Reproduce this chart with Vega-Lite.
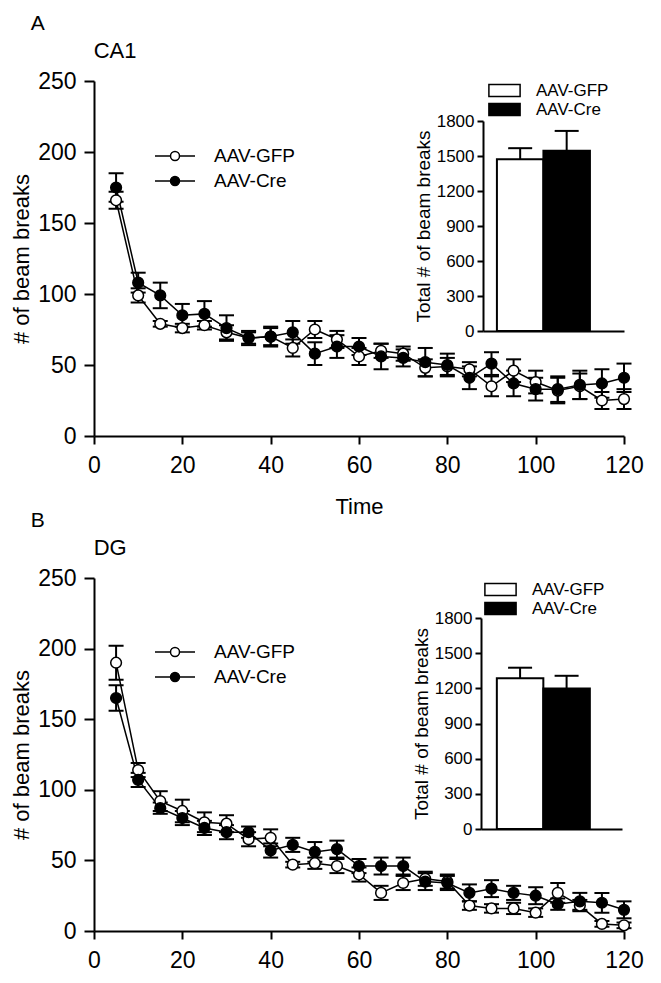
{
  "$schema": "https://vega.github.io/schema/vega-lite/v6.json",
  "padding": {"left": 10, "top": 13, "right": 5, "bottom": 5},
  "background": "white",
  "config": {
    "font": "Liberation Sans",
    "view": {"stroke": null},
    "axis": {"grid": false, "domainColor": "black", "tickColor": "black", "labelColor": "black", "titleColor": "black", "titleFontWeight": "normal", "domainWidth": 2, "tickWidth": 2, "labelFlush": false, "labelOverlap": false},
    "title": {"fontWeight": "normal", "color": "black", "anchor": "start"},
    "legend": {"labelColor": "black", "padding": 0}
  },
  "datasets": {
    "ca1": [
      {"t": 5, "group": "AAV-GFP", "mean": 166, "sem": 6}, {"t": 5, "group": "AAV-Cre", "mean": 175, "sem": 10},
      {"t": 10, "group": "AAV-GFP", "mean": 99, "sem": 5}, {"t": 10, "group": "AAV-Cre", "mean": 108, "sem": 7},
      {"t": 15, "group": "AAV-GFP", "mean": 79, "sem": 2}, {"t": 15, "group": "AAV-Cre", "mean": 99, "sem": 9},
      {"t": 20, "group": "AAV-GFP", "mean": 76, "sem": 3}, {"t": 20, "group": "AAV-Cre", "mean": 85, "sem": 8},
      {"t": 25, "group": "AAV-GFP", "mean": 78, "sem": 3}, {"t": 25, "group": "AAV-Cre", "mean": 86, "sem": 9},
      {"t": 30, "group": "AAV-GFP", "mean": 73, "sem": 5}, {"t": 30, "group": "AAV-Cre", "mean": 76, "sem": 9},
      {"t": 35, "group": "AAV-GFP", "mean": 69, "sem": 4}, {"t": 35, "group": "AAV-Cre", "mean": 69, "sem": 5},
      {"t": 40, "group": "AAV-GFP", "mean": 70, "sem": 6}, {"t": 40, "group": "AAV-Cre", "mean": 70, "sem": 7},
      {"t": 45, "group": "AAV-GFP", "mean": 62, "sem": 6}, {"t": 45, "group": "AAV-Cre", "mean": 73, "sem": 8},
      {"t": 50, "group": "AAV-GFP", "mean": 75, "sem": 6}, {"t": 50, "group": "AAV-Cre", "mean": 58, "sem": 8},
      {"t": 55, "group": "AAV-GFP", "mean": 68, "sem": 6}, {"t": 55, "group": "AAV-Cre", "mean": 63, "sem": 8},
      {"t": 60, "group": "AAV-GFP", "mean": 56, "sem": 6}, {"t": 60, "group": "AAV-Cre", "mean": 63, "sem": 6},
      {"t": 65, "group": "AAV-GFP", "mean": 60, "sem": 5}, {"t": 65, "group": "AAV-Cre", "mean": 56, "sem": 9},
      {"t": 70, "group": "AAV-GFP", "mean": 58, "sem": 5}, {"t": 70, "group": "AAV-Cre", "mean": 55, "sem": 6},
      {"t": 75, "group": "AAV-GFP", "mean": 48, "sem": 6}, {"t": 75, "group": "AAV-Cre", "mean": 52, "sem": 10},
      {"t": 80, "group": "AAV-GFP", "mean": 49, "sem": 6}, {"t": 80, "group": "AAV-Cre", "mean": 50, "sem": 8},
      {"t": 85, "group": "AAV-GFP", "mean": 47, "sem": 5}, {"t": 85, "group": "AAV-Cre", "mean": 41, "sem": 8},
      {"t": 90, "group": "AAV-GFP", "mean": 35, "sem": 7}, {"t": 90, "group": "AAV-Cre", "mean": 51, "sem": 8},
      {"t": 95, "group": "AAV-GFP", "mean": 46, "sem": 8}, {"t": 95, "group": "AAV-Cre", "mean": 37, "sem": 9},
      {"t": 100, "group": "AAV-GFP", "mean": 38, "sem": 8}, {"t": 100, "group": "AAV-Cre", "mean": 33, "sem": 8},
      {"t": 105, "group": "AAV-GFP", "mean": 32, "sem": 9}, {"t": 105, "group": "AAV-Cre", "mean": 33, "sem": 9},
      {"t": 110, "group": "AAV-GFP", "mean": 35, "sem": 9}, {"t": 110, "group": "AAV-Cre", "mean": 36, "sem": 10},
      {"t": 115, "group": "AAV-GFP", "mean": 25, "sem": 6}, {"t": 115, "group": "AAV-Cre", "mean": 37, "sem": 10},
      {"t": 120, "group": "AAV-GFP", "mean": 26, "sem": 7}, {"t": 120, "group": "AAV-Cre", "mean": 41, "sem": 10}
    ],
    "dg": [
      {"t": 5, "group": "AAV-GFP", "mean": 190, "sem": 12}, {"t": 5, "group": "AAV-Cre", "mean": 165, "sem": 9},
      {"t": 10, "group": "AAV-GFP", "mean": 114, "sem": 5}, {"t": 10, "group": "AAV-Cre", "mean": 107, "sem": 5},
      {"t": 15, "group": "AAV-GFP", "mean": 92, "sem": 7}, {"t": 15, "group": "AAV-Cre", "mean": 87, "sem": 4},
      {"t": 20, "group": "AAV-GFP", "mean": 85, "sem": 8}, {"t": 20, "group": "AAV-Cre", "mean": 80, "sem": 5},
      {"t": 25, "group": "AAV-GFP", "mean": 77, "sem": 7}, {"t": 25, "group": "AAV-Cre", "mean": 73, "sem": 5},
      {"t": 30, "group": "AAV-GFP", "mean": 76, "sem": 6}, {"t": 30, "group": "AAV-Cre", "mean": 70, "sem": 5},
      {"t": 35, "group": "AAV-GFP", "mean": 65, "sem": 5}, {"t": 35, "group": "AAV-Cre", "mean": 70, "sem": 4},
      {"t": 40, "group": "AAV-GFP", "mean": 66, "sem": 6}, {"t": 40, "group": "AAV-Cre", "mean": 57, "sem": 5},
      {"t": 45, "group": "AAV-GFP", "mean": 47, "sem": 2}, {"t": 45, "group": "AAV-Cre", "mean": 61, "sem": 5},
      {"t": 50, "group": "AAV-GFP", "mean": 48, "sem": 4}, {"t": 50, "group": "AAV-Cre", "mean": 56, "sem": 7},
      {"t": 55, "group": "AAV-GFP", "mean": 46, "sem": 5}, {"t": 55, "group": "AAV-Cre", "mean": 58, "sem": 6},
      {"t": 60, "group": "AAV-GFP", "mean": 40, "sem": 5}, {"t": 60, "group": "AAV-Cre", "mean": 46, "sem": 5},
      {"t": 65, "group": "AAV-GFP", "mean": 27, "sem": 5}, {"t": 65, "group": "AAV-Cre", "mean": 46, "sem": 6},
      {"t": 70, "group": "AAV-GFP", "mean": 34, "sem": 5}, {"t": 70, "group": "AAV-Cre", "mean": 46, "sem": 6},
      {"t": 75, "group": "AAV-GFP", "mean": 37, "sem": 5}, {"t": 75, "group": "AAV-Cre", "mean": 35, "sem": 6},
      {"t": 80, "group": "AAV-GFP", "mean": 35, "sem": 5}, {"t": 80, "group": "AAV-Cre", "mean": 34, "sem": 5},
      {"t": 85, "group": "AAV-GFP", "mean": 18, "sem": 3}, {"t": 85, "group": "AAV-Cre", "mean": 27, "sem": 6},
      {"t": 90, "group": "AAV-GFP", "mean": 16, "sem": 3}, {"t": 90, "group": "AAV-Cre", "mean": 30, "sem": 6},
      {"t": 95, "group": "AAV-GFP", "mean": 16, "sem": 4}, {"t": 95, "group": "AAV-Cre", "mean": 27, "sem": 5},
      {"t": 100, "group": "AAV-GFP", "mean": 13, "sem": 3}, {"t": 100, "group": "AAV-Cre", "mean": 25, "sem": 6},
      {"t": 105, "group": "AAV-GFP", "mean": 27, "sem": 7}, {"t": 105, "group": "AAV-Cre", "mean": 19, "sem": 4},
      {"t": 110, "group": "AAV-GFP", "mean": 18, "sem": 4}, {"t": 110, "group": "AAV-Cre", "mean": 21, "sem": 6},
      {"t": 115, "group": "AAV-GFP", "mean": 5, "sem": 2}, {"t": 115, "group": "AAV-Cre", "mean": 20, "sem": 7},
      {"t": 120, "group": "AAV-GFP", "mean": 4, "sem": 2}, {"t": 120, "group": "AAV-Cre", "mean": 15, "sem": 6}
    ],
    "totA": [
      {"group": "AAV-GFP", "total": 1473, "sem": 94},
      {"group": "AAV-Cre", "total": 1544, "sem": 171}
    ],
    "totB": [
      {"group": "AAV-GFP", "total": 1287, "sem": 89},
      {"group": "AAV-Cre", "total": 1199, "sem": 108}
    ]
  },
  "bounds": "flush",
  "spacing": 497,
  "vconcat": [
    {
      "title": {"text": "A", "fontSize": 21, "dx": 20, "offset": 6},
      "bounds": "flush",
      "vconcat": [
        {
          "width": 530,
          "height": 355,
          "title": {"text": "CA1", "fontSize": 22, "offset": 7, "dx": 83},
          "layer": [
            {
              "data": {"name": "ca1"},
              "encoding": {
                "x": {"field": "t", "type": "quantitative", "scale": {"domain": [0, 120], "nice": false},
                  "axis": {"orient": "bottom", "values": [0, 20, 40, 60, 80, 100, 120], "tickSize": 8, "labelFontSize": 23, "labelPadding": 10, "title": "Time", "titleFontSize": 22, "titlePadding": 19}},
                "y": {"field": "mean", "type": "quantitative", "scale": {"domain": [0, 250], "nice": false},
                  "axis": {"orient": "left", "values": [0, 50, 100, 150, 200, 250], "tickSize": 10, "labelFontSize": 23, "labelPadding": 8, "title": "# of beam breaks", "titleFontSize": 22, "titlePadding": 4}}
              },
              "layer": [
                {"mark": {"type": "line", "color": "black", "strokeWidth": 1.5}, "encoding": {"detail": {"field": "group"}}},
                {"mark": {"type": "errorbar", "color": "black", "opacity": 1, "ticks": {"size": 15, "thickness": 2, "opacity": 1, "color": "black"}, "rule": {"strokeWidth": 2, "opacity": 1, "color": "black"}},
                  "encoding": {"yError": {"field": "sem"}, "detail": {"field": "group"}}},
                {"mark": {"type": "point", "shape": "circle", "filled": true, "stroke": "black", "strokeWidth": 1.5, "size": 115, "opacity": 1},
                  "encoding": {"fill": {"field": "group", "type": "nominal", "sort": ["AAV-GFP", "AAV-Cre"],
                    "scale": {"domain": ["AAV-GFP", "AAV-Cre"], "range": ["white", "black"]},
                    "legend": {"orient": "none", "legendX": 70, "legendY": 64, "title": null,
                      "symbolType": "M-2,0H-0.45M0.45,0H2M-0.45,0A0.45,0.45 0 1 1 0.45,0A0.45,0.45 0 1 1 -0.45,0Z",
                      "symbolSize": 400, "symbolStrokeColor": "black", "symbolStrokeWidth": 1.5, "symbolOpacity": 1,
                      "labelFontSize": 19, "labelOffset": 28, "rowPadding": 4}}}}
              ]
            },
            {
              "data": {"name": "totA"},
              "encoding": {
                "x": {"field": "group", "type": "nominal", "sort": ["AAV-GFP", "AAV-Cre"],
                  "scale": {"range": [389, 530], "paddingInner": 0, "paddingOuter": 0.516, "align": 0.29},
                  "axis": {"orient": "bottom", "offset": -105, "labels": false, "ticks": false, "title": null}},
                "y": {"field": "total", "type": "quantitative", "scale": {"domain": [0, 1800], "nice": false, "range": [250, 40]},
                  "axis": {"orient": "left", "offset": -389, "values": [0, 300, 600, 900, 1200, 1500, 1800], "format": "d", "tickSize": 6, "labelFontSize": 17, "labelPadding": 3, "title": "Total # of beam breaks", "titleFontSize": 19, "titlePadding": 3}}
              },
              "layer": [
                {"mark": {"type": "errorbar", "color": "black", "opacity": 1, "ticks": {"size": 24, "thickness": 2, "opacity": 1, "color": "black"}, "rule": {"strokeWidth": 2, "opacity": 1, "color": "black"}},
                  "encoding": {"yError": {"field": "sem"}}},
                {"mark": {"type": "bar", "stroke": "black", "strokeWidth": 2, "opacity": 1},
                  "encoding": {"fill": {"field": "group", "type": "nominal", "sort": ["AAV-GFP", "AAV-Cre"],
                    "scale": {"domain": ["AAV-GFP", "AAV-Cre"], "range": ["white", "black"]},
                    "legend": {"orient": "none", "legendX": 402, "legendY": 1, "title": null,
                      "symbolType": "M-2.6,-1H2.6V1H-2.6Z", "symbolSize": 144, "symbolStrokeColor": "black", "symbolStrokeWidth": 1.5, "symbolOpacity": 1,
                      "labelFontSize": 17, "labelOffset": 23, "rowPadding": 0}}}}
              ]
            }
          ],
          "resolve": {"scale": {"x": "independent", "y": "independent", "fill": "independent"}, "axis": {"x": "independent", "y": "independent"}, "legend": {"fill": "independent"}}
        }
      ]
    },
    {
      "title": {"text": "B", "fontSize": 21, "dx": 20, "offset": 6},
      "bounds": "flush",
      "vconcat": [
        {
          "width": 530,
          "height": 353,
          "title": {"text": "DG", "fontSize": 22, "offset": 7, "dx": 83},
          "layer": [
            {
              "data": {"name": "dg"},
              "encoding": {
                "x": {"field": "t", "type": "quantitative", "scale": {"domain": [0, 120], "nice": false},
                  "axis": {"orient": "bottom", "values": [0, 20, 40, 60, 80, 100, 120], "tickSize": 8, "labelFontSize": 23, "labelPadding": 10, "title": null}},
                "y": {"field": "mean", "type": "quantitative", "scale": {"domain": [0, 250], "nice": false},
                  "axis": {"orient": "left", "values": [0, 50, 100, 150, 200, 250], "tickSize": 10, "labelFontSize": 23, "labelPadding": 8, "title": "# of beam breaks", "titleFontSize": 22, "titlePadding": 4}}
              },
              "layer": [
                {"mark": {"type": "line", "color": "black", "strokeWidth": 1.5}, "encoding": {"detail": {"field": "group"}}},
                {"mark": {"type": "errorbar", "color": "black", "opacity": 1, "ticks": {"size": 15, "thickness": 2, "opacity": 1, "color": "black"}, "rule": {"strokeWidth": 2, "opacity": 1, "color": "black"}},
                  "encoding": {"yError": {"field": "sem"}, "detail": {"field": "group"}}},
                {"mark": {"type": "point", "shape": "circle", "filled": true, "stroke": "black", "strokeWidth": 1.5, "size": 115, "opacity": 1},
                  "encoding": {"fill": {"field": "group", "type": "nominal", "sort": ["AAV-GFP", "AAV-Cre"],
                    "scale": {"domain": ["AAV-GFP", "AAV-Cre"], "range": ["white", "black"]},
                    "legend": {"orient": "none", "legendX": 70, "legendY": 63, "title": null,
                      "symbolType": "M-2,0H-0.45M0.45,0H2M-0.45,0A0.45,0.45 0 1 1 0.45,0A0.45,0.45 0 1 1 -0.45,0Z",
                      "symbolSize": 400, "symbolStrokeColor": "black", "symbolStrokeWidth": 1.5, "symbolOpacity": 1,
                      "labelFontSize": 19, "labelOffset": 28, "rowPadding": 4}}}}
              ]
            },
            {
              "data": {"name": "totB"},
              "encoding": {
                "x": {"field": "group", "type": "nominal", "sort": ["AAV-GFP", "AAV-Cre"],
                  "scale": {"range": [387, 528], "paddingInner": 0, "paddingOuter": 0.516, "align": 0.33},
                  "axis": {"orient": "bottom", "offset": -102, "labels": false, "ticks": false, "title": null}},
                "y": {"field": "total", "type": "quantitative", "scale": {"domain": [0, 1800], "nice": false, "range": [251, 40]},
                  "axis": {"orient": "left", "offset": -387, "values": [0, 300, 600, 900, 1200, 1500, 1800], "format": "d", "tickSize": 6, "labelFontSize": 17, "labelPadding": 3, "title": "Total # of beam breaks", "titleFontSize": 19, "titlePadding": 3}}
              },
              "layer": [
                {"mark": {"type": "errorbar", "color": "black", "opacity": 1, "ticks": {"size": 24, "thickness": 2, "opacity": 1, "color": "black"}, "rule": {"strokeWidth": 2, "opacity": 1, "color": "black"}},
                  "encoding": {"yError": {"field": "sem"}}},
                {"mark": {"type": "bar", "stroke": "black", "strokeWidth": 2, "opacity": 1},
                  "encoding": {"fill": {"field": "group", "type": "nominal", "sort": ["AAV-GFP", "AAV-Cre"],
                    "scale": {"domain": ["AAV-GFP", "AAV-Cre"], "range": ["white", "black"]},
                    "legend": {"orient": "none", "legendX": 398, "legendY": 3, "title": null,
                      "symbolType": "M-2.6,-1H2.6V1H-2.6Z", "symbolSize": 144, "symbolStrokeColor": "black", "symbolStrokeWidth": 1.5, "symbolOpacity": 1,
                      "labelFontSize": 17, "labelOffset": 23, "rowPadding": 0}}}}
              ]
            }
          ],
          "resolve": {"scale": {"x": "independent", "y": "independent", "fill": "independent"}, "axis": {"x": "independent", "y": "independent"}, "legend": {"fill": "independent"}}
        }
      ]
    }
  ]
}
